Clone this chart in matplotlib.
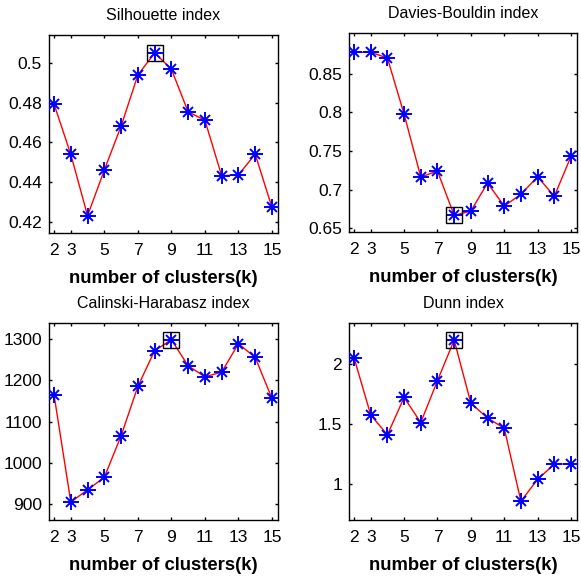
import matplotlib
matplotlib.use("Agg")
import matplotlib.pyplot as plt
import numpy as np

k = [2, 3, 4, 5, 6, 7, 8, 9, 10, 11, 12, 13, 14, 15]
silhouette = [0.4792, 0.4539, 0.4230, 0.4460, 0.4681, 0.4938, 0.5050, 0.4968,
              0.4753, 0.4711, 0.4431, 0.4436, 0.4540, 0.4272]
davies_bouldin = [0.8776, 0.8776, 0.8703, 0.7978, 0.7164, 0.7241, 0.6668, 0.6724,
                  0.7086, 0.6789, 0.6940, 0.7168, 0.6914, 0.7431]
calinski = [1164.5, 905.6, 934.7, 965.3, 1065.3, 1184.7, 1271.0, 1297.6,
            1234.7, 1208.0, 1219.4, 1287.9, 1254.8, 1155.6]
dunn = [2.056, 1.579, 1.412, 1.724, 1.515, 1.864, 2.203, 1.677,
        1.552, 1.468, 0.858, 1.042, 1.167, 1.170]

titles = ["Silhouette index", "Davies-Bouldin index", "Calinski-Harabasz index", "Dunn index"]
series = [silhouette, davies_bouldin, calinski, dunn]
best_k = [8, 8, 9, 8]
xticks = [2, 3, 5, 7, 9, 11, 13, 15]
yticks = [
    [0.42, 0.44, 0.46, 0.48, 0.5],
    [0.65, 0.7, 0.75, 0.8, 0.85],
    [900, 1000, 1100, 1200, 1300],
    [1, 1.5, 2],
]
ytlabels = [
    ["0.42", "0.44", "0.46", "0.48", "0.5"],
    ["0.65", "0.7", "0.75", "0.8", "0.85"],
    ["900", "1000", "1100", "1200", "1300"],
    ["1", "1.5", "2"],
]
ylims = [(0.4143, 0.514), (0.6453, 0.9026), (862, 1338), (0.702, 2.345)]

W, H = 581, 579
fig = plt.figure(figsize=(W / 100, H / 100), dpi=100)
plt.rcParams['font.family'] = ['Liberation Sans', 'DejaVu Sans']

boxes = [(49, 35, 278, 233), (349, 33, 577, 232), (49, 323, 278, 520), (349, 323, 577, 520)]

for i in range(4):
    l, t, r, b = boxes[i]
    ax = fig.add_axes([l / W, (H - b) / H, (r - l) / W, (b - t) / H])
    y = series[i]
    ax.plot(k, y, color='red', lw=1.0, zorder=2)
    ax.plot(k, y, linestyle='none', marker='+', color='blue', markersize=11,
            markeredgewidth=1.4, zorder=3)
    ax.plot(k, y, linestyle='none', marker='x', color='blue', markersize=7.5,
            markeredgewidth=1.4, zorder=3)
    ax.plot(k, y, linestyle='none', marker='o', color='blue', markersize=3.5,
            markeredgewidth=0, zorder=3)
    j = k.index(best_k[i])
    ax.plot([k[j]], [y[j]], linestyle='none', marker='s', markersize=11.5,
            markerfacecolor='none', markeredgecolor='black', markeredgewidth=1.0, zorder=4)
    ax.set_xlim(1.7, 15.36)
    ax.set_ylim(*ylims[i])
    ax.set_xticks(xticks)
    ax.set_xticklabels([str(v) for v in xticks])
    ax.set_yticks(yticks[i])
    ax.set_yticklabels(ytlabels[i])
    ax.tick_params(direction='in', length=2.5, width=1, top=True, right=True,
                   labelsize=12.5)
    ax.tick_params(axis='x', pad=7)
    ax.tick_params(axis='y', pad=5)
    for s in ax.spines.values():
        s.set_linewidth(1.0)
    ax.set_title(titles[i], fontsize=11.5, pad=11)
    ax.set_xlabel("number of clusters(k)", fontsize=13.3, fontweight='bold', labelpad=9)

fig.savefig("out.png", dpi=100)
